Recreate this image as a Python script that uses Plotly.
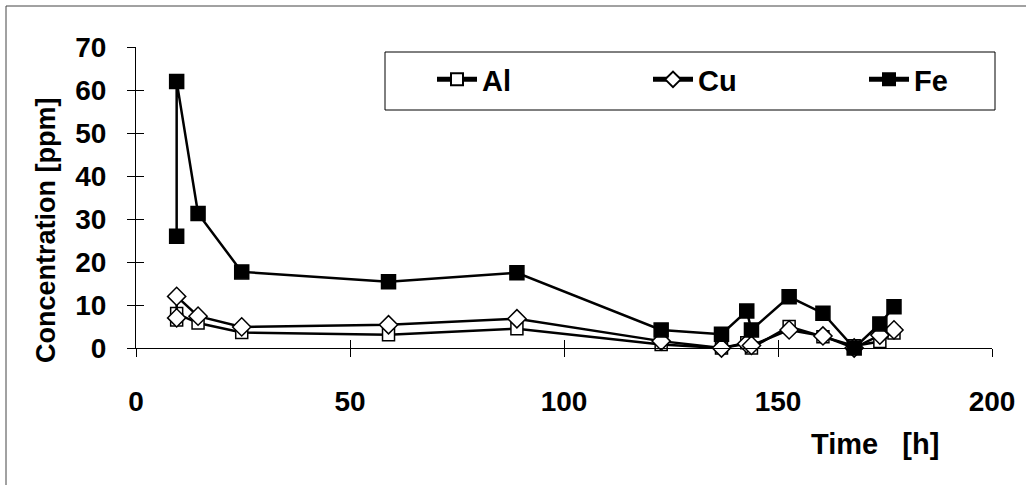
import plotly.graph_objects as go

# ---- data ----
time_h = [9.5, 9.5, 14.5, 24.7, 59, 89, 122.7, 136.8, 142.7, 143.8, 152.6, 160.5, 167.8, 173.8, 177.1]
al = [6.5, 8.0, 5.8, 3.6, 3.1, 4.5, 0.8, 0.0, 1.2, 0.0, 5.0, 2.6, 0.5, 1.5, 3.5]
cu = [7.0, 12.0, 7.4, 4.9, 5.4, 6.8, 1.6, 0.0, 1.0, 0.6, 4.2, 2.8, 0.0, 3.0, 4.2]
fe = [26.0, 62.0, 31.3, 17.7, 15.4, 17.5, 4.2, 3.2, 8.6, 4.2, 11.9, 8.1, 0.0, 5.6, 9.6]

series_names = ["Al", "Cu", "Fe"]
x_ticks = [0, 50, 100, 150, 200]
y_ticks = [0, 10, 20, 30, 40, 50, 60, 70]

FONT = "Arial, 'Liberation Sans', sans-serif"

W, H = 1026, 485
L, R, T, B = 136, 34, 47, 137
PW, PH = W - L - R, H - T - B


def px(x):
    return (x - L) / PW


def py(y):
    return (H - B - y) / PH


fig = go.Figure()

styles = {
    "Al": dict(symbol="square", color="white", size=12),
    "Cu": dict(symbol="diamond", color="white", size=14),
    "Fe": dict(symbol="square", color="black", size=14),
}
for name, vals in zip(series_names, [al, cu, fe]):
    st = styles[name]
    fig.add_trace(go.Scatter(
        x=time_h, y=vals, name=name, mode="lines+markers",
        line=dict(color="black", width=2.5),
        marker=dict(symbol=st["symbol"], size=st["size"], color=st["color"],
                    line=dict(color="black", width=1.5)),
        cliponaxis=False,
    ))

# empty trace to create an overlay subplot for the inward half of the crossing ticks
fig.add_trace(go.Scatter(x=[], y=[], xaxis="x2", yaxis="y2", showlegend=False))

axis_common = dict(showgrid=False, zeroline=False, showline=True, linecolor="black",
                   linewidth=1, tickcolor="black", tickwidth=1, ticklen=8)

fig.update_layout(
    width=W, height=H,
    margin=dict(l=L, r=R, t=T, b=B, autoexpand=False),
    paper_bgcolor="white", plot_bgcolor="white",
    font=dict(family=FONT, color="black"),
    xaxis=dict(range=[0, 200], tickvals=x_ticks, ticks="outside",
               tickfont=dict(size=28, family=FONT, weight="bold"),
               ticklabelstandoff=20, **axis_common),
    yaxis=dict(range=[0, 70], tickvals=y_ticks, ticks="outside",
               tickfont=dict(size=28, family=FONT, weight="bold"),
               ticklabelstandoff=15, **axis_common),
    xaxis2=dict(range=[0, 200], tickvals=x_ticks, ticks="inside", showticklabels=False,
                overlaying="x", anchor="y2", **axis_common),
    yaxis2=dict(range=[0, 70], tickvals=y_ticks, ticks="inside", showticklabels=False,
                overlaying="y", anchor="x2", **axis_common),
    showlegend=True,
    legend=dict(orientation="h", x=px(432), y=py(54), xanchor="left", yanchor="top",
                bgcolor="rgba(0,0,0,0)", borderwidth=0,
                font=dict(size=29, family=FONT, weight="bold"),
                entrywidth=161, entrywidthmode="pixels", itemwidth=40,
                itemsizing="constant"),
    shapes=[
        # outer frame (only top and left edges visible in the reference)
        dict(type="rect", xref="paper", yref="paper", x0=px(6), x1=px(1040), y0=py(6), y1=py(500),
             line=dict(color="#444", width=1), fillcolor="rgba(0,0,0,0)", layer="below"),
        # legend box
        dict(type="rect", xref="paper", yref="paper", x0=px(385), x1=px(995), y0=py(52), y1=py(110),
             line=dict(color="black", width=1), fillcolor="white", layer="above"),
    ],
    annotations=[
        dict(text="Concentration [ppm]", xref="paper", yref="paper", x=px(46), y=py(231),
             textangle=-90, showarrow=False, xanchor="center", yanchor="middle",
             font=dict(size=27, family=FONT, weight="bold")),
        dict(text="Time\u00a0\u00a0 [h]", xref="paper", yref="paper", x=px(875), y=py(444),
             showarrow=False, xanchor="center", yanchor="middle",
             font=dict(size=29, family=FONT, weight="bold")),
    ],
)

fig.write_html("out.html", config={"displayModeBar": False},
               post_script="document.body.style.margin='0';document.body.style.overflow='hidden';")
